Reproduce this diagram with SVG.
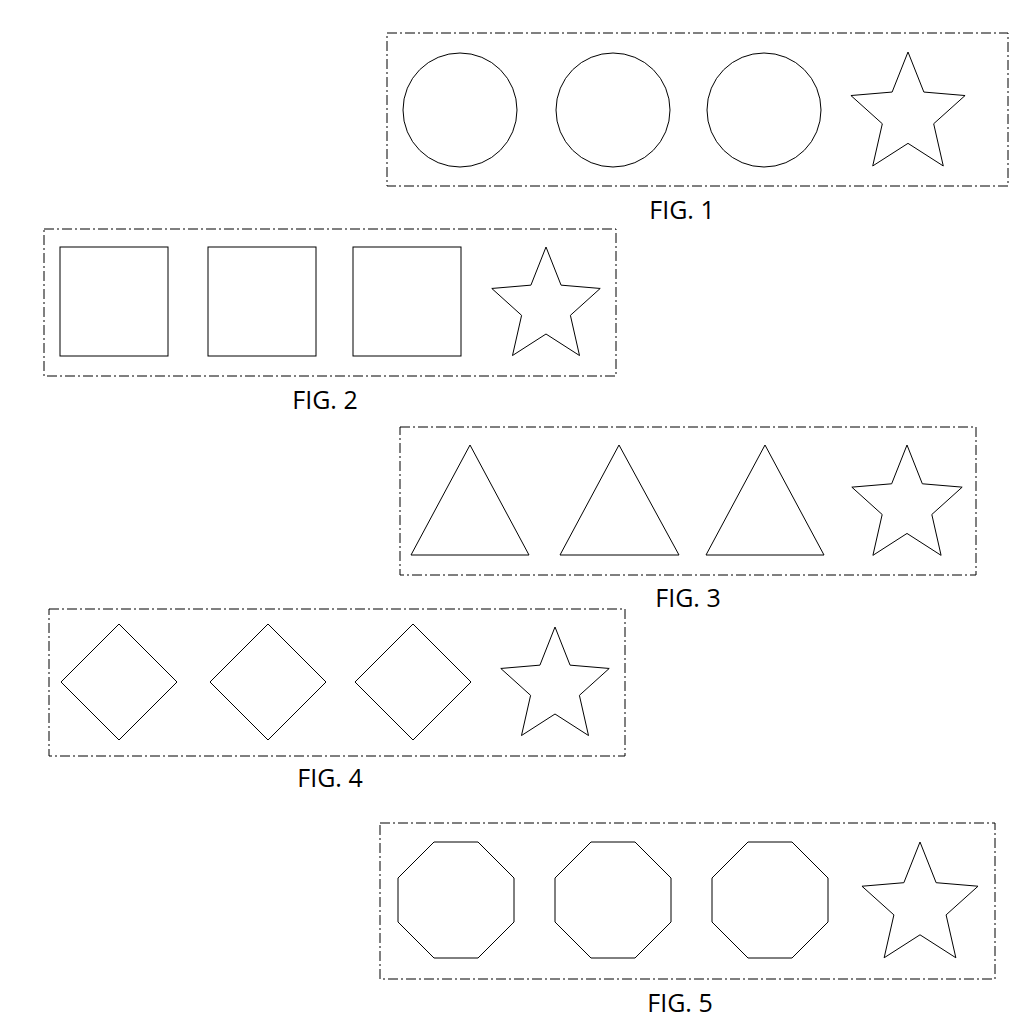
<svg xmlns="http://www.w3.org/2000/svg" xmlns:xlink="http://www.w3.org/1999/xlink" width="1024" height="1024" viewBox="0 0 1024 1024">
<style>
.s{fill:none;stroke:#000;stroke-width:1}
.b{fill:none;stroke:#000;stroke-width:1;stroke-dasharray:10 3 2 3}
.t{font-family:"Open Sans","Liberation Sans",sans-serif;font-size:25px;text-anchor:middle;fill:#000}
</style>
<defs>
<polygon id="star" points="0,-1 0.2645,-0.3641 0.9511,-0.309 0.428,0.1391 0.5878,0.809 0,0.45 -0.5878,0.809 -0.428,0.1391 -0.9511,-0.309 -0.2645,-0.3641" fill="none" stroke="#000" stroke-width="1" vector-effect="non-scaling-stroke"/>
<polygon id="oct" points="-22,-58 22,-58 58,-22 58,22 22,58 -22,58 -58,22 -58,-22" class="s"/>
</defs>
<g id="fig1">
<rect class="b" x="387" y="33" width="621" height="153"/>
<circle class="s" cx="460" cy="110" r="57"/>
<circle class="s" cx="613" cy="110" r="57"/>
<circle class="s" cx="764" cy="110" r="57"/>
<use xlink:href="#star" transform="translate(908,115) scale(60,63)"/>
<text class="t" x="682" y="219">FIG. 1</text>
</g>
<g id="fig2">
<rect class="b" x="44" y="229" width="572" height="147"/>
<rect class="s" x="60" y="247" width="108" height="109"/>
<rect class="s" x="208" y="247" width="108" height="109"/>
<rect class="s" x="353" y="247" width="108" height="109"/>
<use xlink:href="#star" transform="translate(546,307) scale(57,60)"/>
<text class="t" x="325" y="409">FIG. 2</text>
</g>
<g id="fig3">
<rect class="b" x="400" y="427" width="576" height="148"/>
<polygon class="s" points="470,445 529,555 411,555"/>
<polygon class="s" points="619,445 679,555 560,555"/>
<polygon class="s" points="765,445 824,555 706,555"/>
<use xlink:href="#star" transform="translate(907,506) scale(58,61)"/>
<text class="t" x="688" y="607">FIG. 3</text>
</g>
<g id="fig4">
<rect class="b" x="49" y="609" width="576" height="147"/>
<polygon class="s" points="119,624 177,682 119,740 61,682"/>
<polygon class="s" points="268,624 326,682 268,740 210,682"/>
<polygon class="s" points="413,624 471,682 413,740 355,682"/>
<use xlink:href="#star" transform="translate(555,687) scale(57,60)"/>
<text class="t" x="330" y="787">FIG. 4</text>
</g>
<g id="fig5">
<rect class="b" x="380" y="823" width="615" height="156"/>
<use xlink:href="#oct" transform="translate(456,900)"/>
<use xlink:href="#oct" transform="translate(613,900)"/>
<use xlink:href="#oct" transform="translate(770,900)"/>
<use xlink:href="#star" transform="translate(920,906) scale(61,64)"/>
<text class="t" x="680" y="1012">FIG. 5</text>
</g>
</svg>
